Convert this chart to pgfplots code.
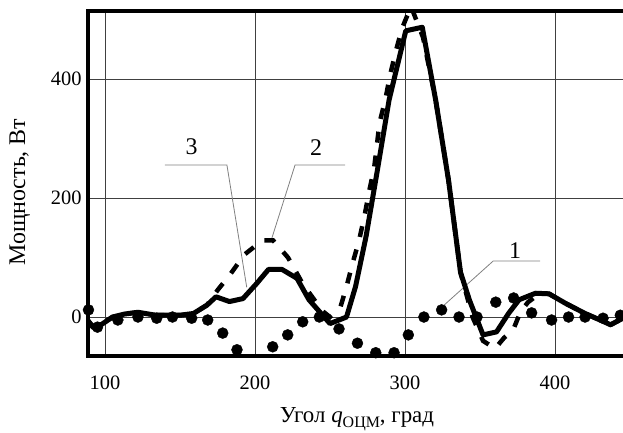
\documentclass[border=0pt]{standalone}
\usepackage{fontspec}
\setmainfont{Liberation Serif}
\usepackage{pgfplots}
\pgfplotsset{compat=1.18}
\begin{document}
\begin{tikzpicture}[x=1bp,y=1bp]
\path[use as bounding box] (0,0) rectangle (623,432);
\begin{axis}[
  at={(88bp,76bp)}, anchor=south west,
  width=535bp, height=345bp, scale only axis,
  xmin=88.7, xmax=445.3, ymin=-65.5, ymax=514.3,
  xtick={100,200,300,400}, ytick={0,200,400},
  grid=major, grid style={line width=0.7bp, black!75},
  axis line style={draw=none},
  major tick length=0pt,
  tick label style={font=\fontsize{20.5}{24}\selectfont},
  /pgf/number format/assume math mode=true,
  xticklabel style={yshift=-16bp},
  yticklabel style={xshift=-3bp},
]
% leader lines and curve numbers
\draw[gray, line width=0.8bp] (140,255.5) -- (181.3,255.5) -- (194.5,50);
\node[font=\fontsize{24}{28}\selectfont] at (157.7,287) {3};
\draw[gray, line width=0.8bp] (260,255.5) -- (226.7,255.5) -- (211.3,133);
\node[font=\fontsize{24}{28}\selectfont] at (240.7,284) {2};
\draw[gray, line width=0.8bp] (390,94) -- (358.7,94) -- (324.7,17);
\node[font=\fontsize{24}{28}\selectfont] at (373.3,112) {1};

% curve 2 (dashed)
\addplot[black, line width=4.5bp, dash pattern=on 11bp off 13bp] table {
88.7 -6
92 -17
98 -12
105 0
113 5
122 8
134 3
150 3
159 6
168 20
175 45
183 70
193 105
205 129
212 129
222 100
232 55
245 10
250 0
257 17
261 51
265 90
269.4 129
273 170
276 210
279.4 250
283 326
287 367
290 406
294 448
298 485
304 522
308 496
312 470
320.4 365
329 230
337 75
345 0
352 -40
360 -53
366 -35
372 -22
377 9
382 25
390 40
396 39
407 23
420 6
430 -5
437 -13
445.3 -2
};
% curve 3 (solid)
\addplot[black, line width=5bp, line join=round] table {
88.7 -6
92 -17
98 -12
105 0
113 5
122 8
134 3
150 3
159 6
168 20
174 34
183 26
192 31
201 56
209 80
218 80
228 65
236 29
250 -11
261 0
267 51
274 135
281.6 247
289.4 365
300.5 481
311.5 487
320.4 365
329 230
337 75
343 28
352 -30
361 -25
369 6
376 29
387 40
396 39
407 23
420 6
430 -5
437 -13
445.3 -2
};
% curve 1 (dots)
\addplot[only marks, mark=*, mark size=5.5bp, black] table {
89 12
95 -17
108.6 -5
122 0
134.5 -2
145 0
157.8 -2
168.5 -5
178.5 -27
188 -55
198 -67
211.8 -50
221.8 -30
231.8 -8
242.9 0
256 -20
268.3 -44
280.5 -60
292.7 -60
302.2 -30
312.6 0
324.4 12
336 0
348 0
360.5 25
372.4 32
384.4 7
397.7 -5
409 0
420 0
432 -2
443.5 3
};
\end{axis}
\draw[line width=3.5bp] (623,421) -- (88,421) -- (88,76) -- (623,76);
\node[rotate=90, anchor=base, font=\fontsize{24}{28}\selectfont] at (25,240) {Мощность, Вт};
\node[anchor=base, font=\fontsize{23}{27}\selectfont] at (357,10) {Угол \textit{q}\raisebox{-5bp}{\fontsize{16}{16}\selectfont ОЦМ}, град};
\end{tikzpicture}
\end{document}
